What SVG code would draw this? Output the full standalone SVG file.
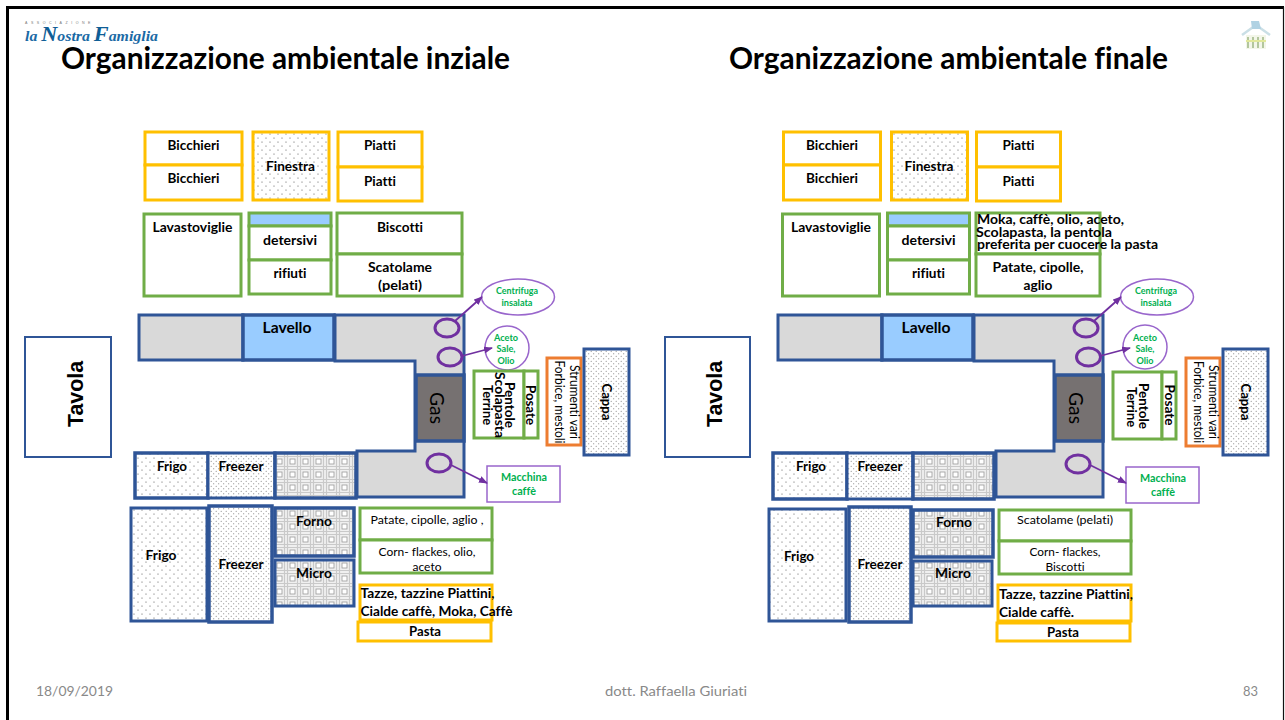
<svg xmlns="http://www.w3.org/2000/svg" width="1285" height="720" viewBox="0 0 1285 720">
<style>
text{font-family:"Lato","Carlito","Liberation Sans",sans-serif;fill:#000;font-variant-ligatures:none}
.b{font-weight:700;font-size:13.5px}
.m{text-anchor:middle}
.t{font-weight:700;font-size:30px}
.f{font-size:13.3px;fill:#898989}
.g{fill:#00B050;font-weight:700;text-anchor:middle}
.r{font-size:13.5px}
.n{font-size:12px;font-weight:400;-webkit-text-stroke:.25px #000}
.tv{font-family:"Liberation Sans",Arial,sans-serif;font-weight:700;font-size:22px;text-anchor:middle}
.y{fill:#fff;stroke:#FFC000;stroke-width:3}
.gr{fill:#fff;stroke:#70AD47;stroke-width:3}
.bl{stroke:#2F5597;stroke-width:3;fill:#D9D9D9}
.bw{stroke:#2F5597;stroke-width:3.500}
.sk{fill:#99CCFF}
.gs{fill:#767171}
.d{fill:url(#dots)}
.dd{fill:url(#dense)}
.gd{fill:url(#grid)}
.ci{fill:none;stroke:#7030A0;stroke-width:3}
.pl{fill:#fff;stroke:#9966CC;stroke-width:1.500}
.or{fill:#fff;stroke:#ED7D31;stroke-width:3}
.cn{stroke:#7030A0;stroke-width:1.800;fill:none;marker-end:url(#ah)}
</style>
<defs>
<pattern id="dots" width="8" height="8" patternUnits="userSpaceOnUse"><rect width="8" height="8" fill="#fff"/><circle cx="2" cy="2" r=".6" fill="#555"/><circle cx="6" cy="6" r=".6" fill="#555"/></pattern>
<pattern id="dense" width="5" height="5" patternUnits="userSpaceOnUse"><rect width="5" height="5" fill="#fff"/><circle cx="1.200" cy="1.200" r=".55" fill="#777"/><circle cx="3.700" cy="3.700" r=".55" fill="#777"/></pattern>
<pattern id="grid" width="13" height="13" patternUnits="userSpaceOnUse"><rect width="13" height="13" fill="#f0f0f0"/><path d="M0 1.500H13M0 11.500H13M1.500 0V13M11.500 0V13" stroke="#c9c9c9" stroke-width="1.200"/><rect x="4" y="4" width="5" height="5" fill="#fff" stroke="#9a9a9a" stroke-width=".8"/></pattern>
<marker id="ah" markerWidth="9" markerHeight="7" refX="8" refY="3.500" orient="auto" markerUnits="userSpaceOnUse"><path d="M0 0L9 3.500L0 7z" fill="#7030A0"/></marker>
</defs>
<rect width="1285" height="720" fill="#fff"/>
<path d="M7.500 720V7.500H1284" fill="none" stroke="#000" stroke-width="3"/>
<path d="M1283.500 7V720" stroke="#111" stroke-width="1.200"/>

<g id="logo">
<text x="25" y="23.500" font-size="3.600" letter-spacing="3.500" style="font-family:'Liberation Sans',sans-serif;fill:#777">ASSOCIAZIONE</text>
<text x="25" y="41" font-size="15" font-weight="700" font-style="italic" textLength="133" lengthAdjust="spacingAndGlyphs" style="font-family:'Liberation Serif',serif;fill:#1B6AA5">la <tspan font-size="21" fill="#0F5E96">N</tspan>ostra <tspan font-size="21" fill="#0F5E96">F</tspan>amiglia</text>
</g>
<g id="house" opacity=".7">
<path d="M1242 35L1256 25L1270 35" fill="none" stroke="#b5d2dc" stroke-width="2.500"/>
<path d="M1251 21L1259 21L1261 29L1252 29Z" fill="#8fbfd8"/>
<rect x="1246" y="35" width="20" height="14" fill="#eef3e0"/>
<path d="M1248 37V48M1253 37V48M1258 37V48M1263 37V48" stroke="#8aa86a" stroke-width="1.800"/>
<path d="M1246 41H1266" stroke="#d5df70" stroke-width="2"/>
</g>
<text class="t" x="61" y="69" textLength="449" lengthAdjust="spacingAndGlyphs">Organizzazione ambientale inziale</text>
<text class="t" x="729" y="69" textLength="439" lengthAdjust="spacingAndGlyphs">Organizzazione ambientale finale</text>

<!-- LEFT PANEL -->
<g id="l-bicchieri1"><rect class="y" x="145" y="132" width="97" height="33"/><text class="b m" x="193.500" y="150" textLength="52" lengthAdjust="spacingAndGlyphs">Bicchieri</text></g>
<g id="l-bicchieri2"><rect class="y" x="145" y="165" width="97" height="35"/><text class="b m" x="193.500" y="183" textLength="52" lengthAdjust="spacingAndGlyphs">Bicchieri</text></g>
<g id="l-finestra"><rect class="y" style="fill:url(#dots)" x="253" y="132" width="76" height="68"/><text class="b m" x="290.500" y="171" textLength="49" lengthAdjust="spacingAndGlyphs">Finestra</text></g>
<g id="l-piatti1"><rect class="y" x="338" y="132" width="84" height="35"/><text class="b m" x="380" y="150" textLength="32" lengthAdjust="spacingAndGlyphs">Piatti</text></g>
<g id="l-piatti2"><rect class="y" x="338" y="167" width="84" height="34"/><text class="b m" x="380" y="186" textLength="32" lengthAdjust="spacingAndGlyphs">Piatti</text></g>
<g id="l-lavastoviglie"><rect class="gr" x="144" y="214" width="97" height="82"/><text class="b m" x="192.500" y="232" textLength="80" lengthAdjust="spacingAndGlyphs">Lavastoviglie</text></g>
<g id="l-finestrella"><rect class="gr" style="fill:#99CCFF" x="249" y="213" width="82" height="13"/></g>
<g id="l-detersivi"><rect class="gr" x="249" y="226" width="82" height="34"/><text class="b m" x="290" y="245" textLength="54" lengthAdjust="spacingAndGlyphs">detersivi</text></g>
<g id="l-rifiuti"><rect class="gr" x="249" y="260" width="82" height="34"/><text class="b m" x="290" y="278" textLength="33" lengthAdjust="spacingAndGlyphs">rifiuti</text></g>
<g id="l-biscotti"><rect class="gr" x="337" y="213" width="125" height="41"/><text class="b m" x="400" y="232" textLength="46" lengthAdjust="spacingAndGlyphs">Biscotti</text></g>
<g id="l-scatolame"><rect class="gr" x="337" y="254" width="125" height="42"/><text class="b m" x="400" y="272" textLength="64" lengthAdjust="spacingAndGlyphs">Scatolame</text><text class="b m" x="400" y="290" textLength="44" lengthAdjust="spacingAndGlyphs">(pelati)</text></g>
<g id="l-piano"><rect class="bl" x="139" y="315" width="104" height="45"/><path class="bl" d="M335 315H464V497H357V451H415V361H335Z"/></g>
<g id="l-lavello"><rect class="bw sk" x="243" y="315" width="91" height="45"/><text class="m" x="287" y="333" font-size="16" font-weight="700" textLength="49" lengthAdjust="spacingAndGlyphs">Lavello</text></g>
<g id="l-gas"><rect class="bw gs" x="416" y="375" width="48" height="66"/><text class="m" transform="translate(429.500 408) rotate(90)" font-size="20" font-weight="400" textLength="32" lengthAdjust="spacingAndGlyphs" style="-webkit-text-stroke:.4px #000">Gas</text></g>
<g id="l-c1"><ellipse class="ci" cx="447" cy="328" rx="12" ry="9"/></g>
<g id="l-c2"><ellipse class="ci" cx="450" cy="357" rx="12" ry="9"/></g>
<g id="l-c3"><ellipse class="ci" cx="439" cy="463" rx="12" ry="9"/></g>
<g id="l-centrifuga"><ellipse class="pl" cx="518" cy="297" rx="36.500" ry="18"/><text class="g" x="517" y="294" font-size="9" textLength="42" lengthAdjust="spacingAndGlyphs">Centrifuga</text><text class="g" x="517" y="306" font-size="9" textLength="31" lengthAdjust="spacingAndGlyphs">insalata</text></g>
<g id="l-aceto"><circle class="pl" cx="507" cy="348" r="22"/><text class="g" x="506" y="341" font-size="9.500" textLength="24" lengthAdjust="spacingAndGlyphs">Aceto</text><text class="g" x="506" y="352" font-size="9.500" textLength="19" lengthAdjust="spacingAndGlyphs">Sale,</text><text class="g" x="506" y="364" font-size="9.500" textLength="17" lengthAdjust="spacingAndGlyphs">Olio</text></g>
<g id="l-macchina"><rect class="pl" x="487" y="466" width="73" height="36"/><text class="g" x="524" y="481" font-size="12" textLength="46" lengthAdjust="spacingAndGlyphs">Macchina</text><text class="g" x="524" y="495" font-size="12" textLength="24" lengthAdjust="spacingAndGlyphs">caffè</text></g>
<g id="l-pentole"><rect class="gr" x="474" y="371" width="50" height="67"/><text class="b m" transform="translate(505 405) rotate(90)" textLength="46" lengthAdjust="spacingAndGlyphs">Pentole</text><text class="b m" transform="translate(495 405) rotate(90)" textLength="66" lengthAdjust="spacingAndGlyphs">Scolapasta</text><text class="b m" transform="translate(483 405) rotate(90)" textLength="40" lengthAdjust="spacingAndGlyphs">Terrine</text></g>
<g id="l-posate"><rect class="gr" x="524" y="371" width="14" height="67"/><text class="b m" transform="translate(526 405) rotate(90)" textLength="40" lengthAdjust="spacingAndGlyphs">Posate</text></g>
<g id="l-strumenti"><rect class="or" x="547" y="358" width="34" height="87"/><text class="r m" transform="translate(570 402) rotate(90)" textLength="74" lengthAdjust="spacingAndGlyphs">Strumenti vari</text><text class="r m" transform="translate(555 402) rotate(90)" textLength="83" lengthAdjust="spacingAndGlyphs">Forbice, mestoli</text></g>
<g id="l-cappa"><rect class="bl dd" style="fill:url(#dense)" x="584" y="349" width="45" height="106"/><text class="b m" transform="translate(602 402) rotate(90)" textLength="37" lengthAdjust="spacingAndGlyphs">Cappa</text></g>
<g id="l-frigo-a"><rect class="bw d" x="135" y="453" width="73" height="45"/><text class="b m" x="172" y="471" textLength="30" lengthAdjust="spacingAndGlyphs">Frigo</text></g>
<g id="l-freezer-a"><rect class="bw dd" style="stroke-width:3" x="208" y="453" width="67" height="45"/><text class="b m" x="241" y="471" textLength="45" lengthAdjust="spacingAndGlyphs">Freezer</text></g>
<g id="l-griglia"><rect class="bw gd" x="275" y="453" width="81" height="45"/></g>
<g id="l-frigo-b"><rect class="bw d" style="stroke-width:3" x="131" y="508" width="76" height="113"/><text class="b m" x="161" y="560" textLength="31" lengthAdjust="spacingAndGlyphs">Frigo</text></g>
<g id="l-freezer-b"><rect class="bw dd" x="209" y="506" width="63" height="116"/><text class="b m" x="241" y="569" textLength="45" lengthAdjust="spacingAndGlyphs">Freezer</text></g>
<g id="l-forno"><rect class="bw gd" x="275" y="508" width="79" height="48"/><text class="b m" x="314" y="526" textLength="36" lengthAdjust="spacingAndGlyphs">Forno</text></g>
<g id="l-micro"><rect class="bw gd" style="stroke-width:3" x="275" y="560" width="79" height="46"/><text class="b m" x="314" y="578" textLength="36" lengthAdjust="spacingAndGlyphs">Micro</text></g>
<g id="l-patate"><rect class="gr" x="360" y="508" width="132" height="32"/><text class="n m" x="427" y="524" textLength="113" lengthAdjust="spacingAndGlyphs">Patate, cipolle, aglio ,</text></g>
<g id="l-corn"><rect class="gr" x="360" y="540" width="132" height="33"/><text class="n m" x="427" y="556" textLength="97" lengthAdjust="spacingAndGlyphs">Corn- flackes, olio,</text><text class="n m" x="427" y="571" textLength="29" lengthAdjust="spacingAndGlyphs">aceto</text></g>
<g id="l-tazze"><rect class="y" x="360" y="585" width="132" height="35"/><text class="b" x="360.500" y="598" textLength="134" lengthAdjust="spacingAndGlyphs">Tazze, tazzine Piattini,</text><text class="b" x="360.500" y="616" textLength="152" lengthAdjust="spacingAndGlyphs">Cialde caffè, Moka, Caffè</text></g>
<g id="l-pasta"><rect class="y" x="358" y="622" width="133" height="19"/><text class="b m" x="425" y="636" textLength="32" lengthAdjust="spacingAndGlyphs">Pasta</text></g>
<g id="l-tavola"><rect x="25" y="337" width="86" height="120" fill="#fff" stroke="#2F5597" stroke-width="2"/><text class="tv" transform="translate(83 394) rotate(-90)" textLength="66" lengthAdjust="spacingAndGlyphs">Tavola</text></g>

<!-- RIGHT PANEL -->
<g id="r-bicchieri1"><rect class="y" x="783.500" y="132" width="97" height="33"/><text class="b m" x="832" y="150" textLength="52" lengthAdjust="spacingAndGlyphs">Bicchieri</text></g>
<g id="r-bicchieri2"><rect class="y" x="783.500" y="165" width="97" height="35"/><text class="b m" x="832" y="183" textLength="52" lengthAdjust="spacingAndGlyphs">Bicchieri</text></g>
<g id="r-finestra"><rect class="y" style="fill:url(#dots)" x="891.500" y="132" width="76" height="68"/><text class="b m" x="929" y="171" textLength="49" lengthAdjust="spacingAndGlyphs">Finestra</text></g>
<g id="r-piatti1"><rect class="y" x="976.500" y="132" width="84" height="35"/><text class="b m" x="1018.500" y="150" textLength="32" lengthAdjust="spacingAndGlyphs">Piatti</text></g>
<g id="r-piatti2"><rect class="y" x="976.500" y="167" width="84" height="34"/><text class="b m" x="1018.500" y="186" textLength="32" lengthAdjust="spacingAndGlyphs">Piatti</text></g>
<g id="r-lavastoviglie"><rect class="gr" x="782.500" y="214" width="97" height="82"/><text class="b m" x="831" y="232" textLength="80" lengthAdjust="spacingAndGlyphs">Lavastoviglie</text></g>
<g id="r-finestrella"><rect class="gr" style="fill:#99CCFF" x="887.500" y="213" width="82" height="13"/></g>
<g id="r-detersivi"><rect class="gr" x="887.500" y="226" width="82" height="34"/><text class="b m" x="928.500" y="245" textLength="54" lengthAdjust="spacingAndGlyphs">detersivi</text></g>
<g id="r-rifiuti"><rect class="gr" x="887.500" y="260" width="82" height="34"/><text class="b m" x="928.500" y="278" textLength="33" lengthAdjust="spacingAndGlyphs">rifiuti</text></g>
<g id="r-moka"><rect class="gr" x="976" y="213" width="124" height="41"/><text class="b" x="977" y="224" textLength="147" lengthAdjust="spacingAndGlyphs">Moka, caffè, olio, aceto,</text><text class="b" x="976" y="237" textLength="136" lengthAdjust="spacingAndGlyphs">Scolapasta, la pentola</text><text class="b" x="977" y="249" textLength="181" lengthAdjust="spacingAndGlyphs">preferita per cuocere la pasta</text></g>
<g id="r-patate"><rect class="gr" x="976" y="254" width="124" height="42"/><text class="b m" x="1038" y="272" textLength="91" lengthAdjust="spacingAndGlyphs">Patate, cipolle,</text><text class="b m" x="1038" y="290" textLength="29" lengthAdjust="spacingAndGlyphs">aglio</text></g>
<g id="r-piano"><rect class="bl" x="778" y="315" width="104" height="45"/><path class="bl" d="M974 315H1103V497H996V451H1054V361H974Z"/></g>
<g id="r-lavello"><rect class="bw sk" x="882" y="315" width="91" height="45"/><text class="m" x="926" y="333" font-size="16" font-weight="700" textLength="49" lengthAdjust="spacingAndGlyphs">Lavello</text></g>
<g id="r-gas"><rect class="bw gs" x="1055" y="375" width="48" height="66"/><text class="m" transform="translate(1068.500 408) rotate(90)" font-size="20" font-weight="400" textLength="32" lengthAdjust="spacingAndGlyphs" style="-webkit-text-stroke:.4px #000">Gas</text></g>
<g id="r-c1"><ellipse class="ci" cx="1086" cy="328" rx="12" ry="9"/></g>
<g id="r-c2"><ellipse class="ci" cx="1088.500" cy="357" rx="12" ry="9"/></g>
<g id="r-c3"><ellipse class="ci" cx="1078" cy="464" rx="12" ry="9"/></g>
<g id="r-centrifuga"><ellipse class="pl" cx="1157" cy="297" rx="36.500" ry="18"/><text class="g" x="1156" y="294" font-size="9" textLength="42" lengthAdjust="spacingAndGlyphs">Centrifuga</text><text class="g" x="1156" y="306" font-size="9" textLength="31" lengthAdjust="spacingAndGlyphs">insalata</text></g>
<g id="r-aceto"><circle class="pl" cx="1145" cy="347" r="22"/><text class="g" x="1145" y="341" font-size="9.500" textLength="24" lengthAdjust="spacingAndGlyphs">Aceto</text><text class="g" x="1145" y="352" font-size="9.500" textLength="19" lengthAdjust="spacingAndGlyphs">Sale,</text><text class="g" x="1145" y="364" font-size="9.500" textLength="17" lengthAdjust="spacingAndGlyphs">Olio</text></g>
<g id="r-macchina"><rect class="pl" x="1126" y="467" width="73" height="36"/><text class="g" x="1163" y="482" font-size="12" textLength="46" lengthAdjust="spacingAndGlyphs">Macchina</text><text class="g" x="1163" y="496" font-size="12" textLength="24" lengthAdjust="spacingAndGlyphs">caffè</text></g>
<g id="r-pentole"><rect class="gr" x="1113" y="372" width="49" height="67"/><text class="b m" transform="translate(1139 406) rotate(90)" textLength="46" lengthAdjust="spacingAndGlyphs">Pentole</text><text class="b m" transform="translate(1127 407) rotate(90)" textLength="40" lengthAdjust="spacingAndGlyphs">Terrine</text></g>
<g id="r-posate"><rect class="gr" x="1162" y="372" width="14" height="67"/><text class="b m" transform="translate(1165 405) rotate(90)" textLength="41" lengthAdjust="spacingAndGlyphs">Posate</text></g>
<g id="r-strumenti"><rect class="or" x="1186" y="358" width="34" height="88"/><text class="r m" transform="translate(1209 402) rotate(90)" textLength="74" lengthAdjust="spacingAndGlyphs">Strumenti vari</text><text class="r m" transform="translate(1194 402) rotate(90)" textLength="82" lengthAdjust="spacingAndGlyphs">Forbice, mestoli</text></g>
<g id="r-cappa"><rect class="bl" style="fill:url(#dense)" x="1223" y="349" width="45" height="106"/><text class="b m" transform="translate(1241 402) rotate(90)" textLength="37" lengthAdjust="spacingAndGlyphs">Cappa</text></g>
<g id="r-frigo-a"><rect class="bw d" x="773" y="453" width="74" height="46"/><text class="b m" x="811" y="471" textLength="30" lengthAdjust="spacingAndGlyphs">Frigo</text></g>
<g id="r-freezer-a"><rect class="bw dd" style="stroke-width:3" x="847" y="453" width="66" height="46"/><text class="b m" x="880" y="471" textLength="45" lengthAdjust="spacingAndGlyphs">Freezer</text></g>
<g id="r-griglia"><rect class="bw gd" x="913" y="453" width="81" height="46"/></g>
<g id="r-frigo-b"><rect class="bw d" style="stroke-width:3" x="769" y="509" width="77" height="112"/><text class="b m" x="799" y="561" textLength="30" lengthAdjust="spacingAndGlyphs">Frigo</text></g>
<g id="r-freezer-b"><rect class="bw dd" x="849" y="507" width="62" height="115"/><text class="b m" x="880" y="569" textLength="45" lengthAdjust="spacingAndGlyphs">Freezer</text></g>
<g id="r-forno"><rect class="bw gd" x="913" y="510" width="80" height="47"/><text class="b m" x="954" y="527" textLength="36" lengthAdjust="spacingAndGlyphs">Forno</text></g>
<g id="r-micro"><rect class="bw gd" style="stroke-width:3" x="913" y="561" width="79" height="45"/><text class="b m" x="953" y="578" textLength="36" lengthAdjust="spacingAndGlyphs">Micro</text></g>
<g id="r-scatolame"><rect class="gr" x="999" y="510" width="132" height="31"/><text class="n m" x="1065" y="524" textLength="96" lengthAdjust="spacingAndGlyphs">Scatolame (pelati)</text></g>
<g id="r-corn"><rect class="gr" x="999" y="541" width="132" height="33"/><text class="n m" x="1065" y="556" textLength="71" lengthAdjust="spacingAndGlyphs">Corn- flackes,</text><text class="n m" x="1065" y="571" textLength="39" lengthAdjust="spacingAndGlyphs">Biscotti</text></g>
<g id="r-tazze"><rect class="y" x="998" y="585" width="133" height="36"/><text class="b" x="999" y="599" textLength="134" lengthAdjust="spacingAndGlyphs">Tazze, tazzine Piattini,</text><text class="b" x="999" y="617" textLength="75" lengthAdjust="spacingAndGlyphs">Cialde caffè.</text></g>
<g id="r-pasta"><rect class="y" x="997" y="623" width="133" height="18"/><text class="b m" x="1063" y="637" textLength="32" lengthAdjust="spacingAndGlyphs">Pasta</text></g>
<g id="r-tavola"><rect x="665" y="337" width="85" height="120" fill="#fff" stroke="#2F5597" stroke-width="2"/><text class="tv" transform="translate(722 394) rotate(-90)" textLength="66" lengthAdjust="spacingAndGlyphs">Tavola</text></g>

<g id="connectors">
<path class="cn" d="M455 321L482 297"/>
<path class="cn" d="M462 356L492 348"/>
<path class="cn" d="M451 465L487 483"/>
<path class="cn" d="M1094 321L1121 297"/>
<path class="cn" d="M1100 356L1130 348"/>
<path class="cn" d="M1090 465L1126 483"/>
</g>
<g id="footer">
<text class="f" x="36" y="696" textLength="77" lengthAdjust="spacingAndGlyphs">18/09/2019</text>
<text class="f" x="605" y="696" textLength="142" lengthAdjust="spacingAndGlyphs">dott. Raffaella Giuriati</text>
<text class="f" x="1243" y="696" textLength="15" lengthAdjust="spacingAndGlyphs">83</text>
</g>
</svg>
